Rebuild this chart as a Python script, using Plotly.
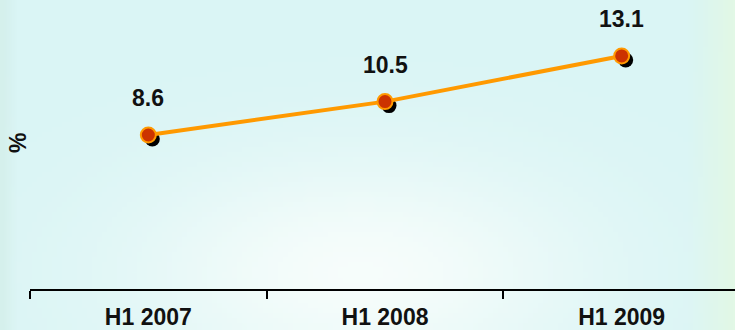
import base64
import struct
import zlib

import numpy as np
import plotly.graph_objects as go

# ---- data -------------------------------------------------------------
periods = ["H1 2007", "H1 2008", "H1 2009"]
values = [8.6, 10.5, 13.1]
value_labels = ["8.6", "10.5", "13.1"]
y_title = "%"

# ---- geometry (pixels) ------------------------------------------------
W, H = 735, 330
plot_left = 30          # left edge of the category axis
cat_width = 236.67      # pixel width of one category slot
axis_y = 289            # pixel row of the category axis line
px_per_unit = 17.56     # vertical scale
zero_row = 286          # pixel row of value 0
shadow_dx, shadow_dy = 4, 4

y_lo = -(axis_y - zero_row) / px_per_unit
y_hi = zero_row / px_per_unit


def x_range(left):
    return [-0.5, -0.5 + (W - left) / cat_width]


# ---- soft background (cyan with a white glow and green edges) ----------
def background_png(w, h):
    xs = np.linspace(0, W, w)[None, :]
    ys = np.linspace(0, H, h)[:, None]
    base = np.array([218, 245, 245], float)
    img = np.ones((h, w, 3)) * base
    glow = np.exp(-((xs - 360) / 230) ** 2 - ((ys - 275) / 120) ** 2)
    img = img + (np.array([250, 254, 252]) - img) * (0.9 * glow)[..., None]
    right = np.clip((xs - 690) / 45, 0, 1) * np.ones_like(ys)
    img = img + (np.array([226, 248, 230]) - img) * right[..., None]
    left = np.clip((14 - xs) / 14, 0, 1) * np.ones_like(ys)
    img = img + (np.array([212, 239, 234]) - img) * (0.8 * left)[..., None]
    img = np.clip(img, 0, 255).astype(np.uint8)

    raw = b"".join(b"\x00" + img[r].tobytes() for r in range(h))

    def chunk(tag, data):
        c = struct.pack(">I", len(data)) + tag + data
        return c + struct.pack(">I", zlib.crc32(tag + data) & 0xFFFFFFFF)

    png = (b"\x89PNG\r\n\x1a\n"
           + chunk(b"IHDR", struct.pack(">IIBBBBB", w, h, 8, 2, 0, 0, 0))
           + chunk(b"IDAT", zlib.compress(raw, 9))
           + chunk(b"IEND", b""))
    return "data:image/png;base64," + base64.b64encode(png).decode()


font_family = "Liberation Sans, Arial, sans-serif"
text_color = "#111111"

fig = go.Figure()

# drop shadow under each point
fig.add_trace(go.Scatter(
    x=periods, y=values, mode="markers",
    marker=dict(size=15, color="#000000"),
    xaxis="x", yaxis="y", hoverinfo="skip", cliponaxis=False,
    showlegend=False,
))

# main series
fig.add_trace(go.Scatter(
    x=periods, y=values, mode="lines+markers",
    line=dict(color="#ff9900", width=4),
    marker=dict(size=15, color="#cc3300", line=dict(color="#ff9900", width=2)),
    xaxis="x2", yaxis="y2", cliponaxis=False, showlegend=False,
))

# value labels above points
for p, v, t in zip(periods, values, value_labels):
    fig.add_annotation(
        x=p, y=v, xref="x2", yref="y2", text=t, showarrow=False,
        xanchor="center", yanchor="middle", yshift=37,
        font=dict(family=font_family, size=23, color=text_color,
                  weight="bold"),
    )

fig.add_annotation(
    x=18 / W, y=(H - 143) / H, xref="paper", yref="paper", text=y_title,
    textangle=-90, showarrow=False, xanchor="center", yanchor="middle",
    font=dict(family=font_family, size=23, color=text_color, weight="bold"),
)

hidden_axis = dict(showgrid=False, zeroline=False, showline=False,
                   showticklabels=False, ticks="")

fig.update_layout(
    width=W, height=H,
    margin=dict(l=0, r=0, t=0, b=0),
    paper_bgcolor="rgba(0,0,0,0)",
    plot_bgcolor="rgba(0,0,0,0)",
    # shadow axes: shifted right and down
    xaxis=dict(domain=[(plot_left + shadow_dx) / W, 1],
               range=x_range(plot_left + shadow_dx), type="category",
               anchor="y", **hidden_axis),
    yaxis=dict(domain=[(H - axis_y - shadow_dy) / H, 1 - shadow_dy / H],
               range=[y_lo, y_hi], anchor="x", **hidden_axis),
    # visible axes
    xaxis2=dict(domain=[plot_left / W, 1], range=x_range(plot_left),
                type="category", anchor="y2",
                showgrid=False, zeroline=False,
                showline=True, linecolor="#000000", linewidth=2,
                ticks="outside", tickson="boundaries", ticklen=8,
                tickwidth=2, tickcolor="#000000", ticklabelstandoff=6,
                tickfont=dict(family=font_family, size=23, color=text_color,
                              weight="bold")),
    yaxis2=dict(domain=[(H - axis_y) / H, 1], range=[y_lo, y_hi],
                anchor="x2", **hidden_axis),
    images=[dict(source=background_png(147, 66), xref="paper", yref="paper",
                 x=0, y=1, sizex=1, sizey=1, sizing="stretch",
                 xanchor="left", yanchor="top", layer="below")],
)

fig.write_html("out.html")
